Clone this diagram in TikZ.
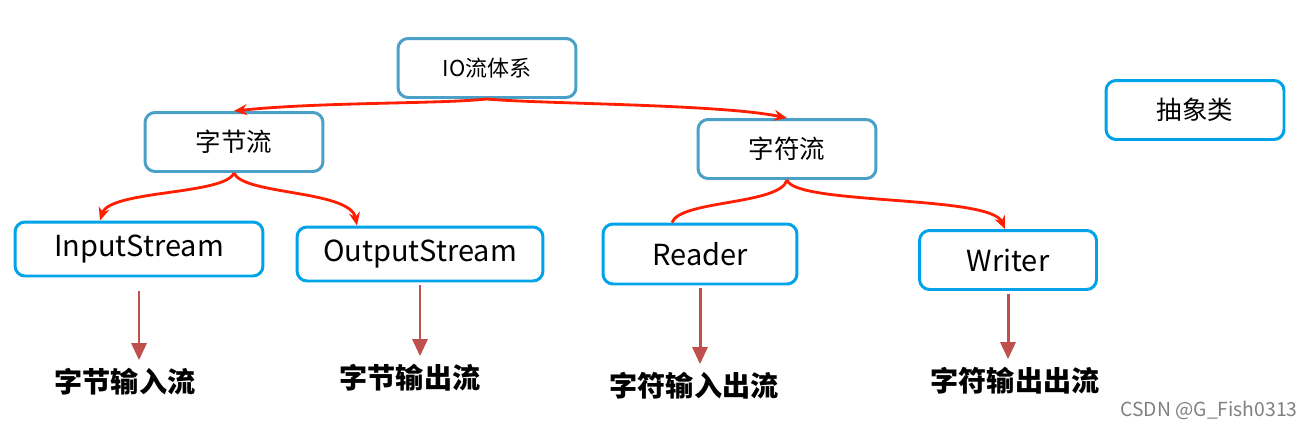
\documentclass[tikz,border=0pt]{standalone}
\usepackage{fontspec}
\setmainfont{Noto Sans CJK SC}
\usetikzlibrary{arrows.meta}

\definecolor{topblue}{RGB}{75,160,200}
\definecolor{leafblue}{RGB}{0,162,232}
\definecolor{linkred}{RGB}{255,30,0}
\definecolor{downred}{RGB}{192,80,77}

\tikzset{
    topbox/.style={draw=topblue,line width=1.7pt,rounded corners=0.2cm,minimum width=3.56cm,minimum height=1.18cm,font=\fontsize{14.5pt}{16pt}\selectfont},
    leafbox/.style={draw=leafblue,line width=1.7pt,rounded corners=0.2cm,minimum height=1.08cm,font=\fontsize{16.5pt}{19pt}\selectfont},
    leaflabel/.style={inner sep=0pt,font=\fontsize{16pt}{18pt}\selectfont\bfseries},
    link/.style={draw=linkred,line width=1.6pt,-{Stealth[length=0.26cm,width=0.22cm]}},
    down/.style={draw=downred,line width=1.7pt,-{Triangle[length=0.34cm,width=0.3cm]},shorten <=0.06cm,shorten >=0.16cm}
}

\begin{document}
\begin{tikzpicture}[x=0.02cm,y=-0.02cm]
                    \useasboundingbox (0,0) rectangle (1312,427);
                    \begin{scope}[every node/.style={topbox}]
                        \node (io) at (487,68) {\fontsize{12.5pt}{14pt}\selectfont IO流体系};
                        \node (zjl) at (234,142) {字节流};
                        \node (zfl) at (787,149) {字符流};
                        \node[draw=leafblue] (cxl) at (1195,110) {抽象类};
                    \end{scope}
                    \begin{scope}[every node/.style={leafbox}]
                        \node[minimum width=4.96cm] (in) at (139,249) {InputStream};
                        \node[minimum width=4.92cm] (out) at (420,254) {OutputStream};
                        \node[minimum width=3.88cm,minimum height=1.2cm] (rd) at (700,254) {Reader};
                        \node[minimum width=3.54cm,minimum height=1.18cm] (wr) at (1008,260) {Writer};
                    \end{scope}
                    \begin{scope}[every node/.style={leaflabel}]
                        \node (inl) at (125,382) {字节输入流};
                        \node (outl) at (410,378) {字节输出流};
                        \node (rdl) at (694,386) {字符输入出流};
                        \node (wrl) at (1015,381) {字符输出出流};
                    \end{scope}
                    \node[text=gray,font=\fontsize{11pt}{13pt}\selectfont] (csdn) at (1209,410) {CSDN @G\_Fish0313};
                    % red links
                    \draw[link] (io.south) .. controls (440,104) and (320,102) .. (zjl.north);
                    \draw[link] (io.south) .. controls (540,104) and (720,104) .. (zfl.north);
                    \draw[link] (zjl.south) .. controls (225,195) and (110,190) .. (in.north -| 100,0);
                    \draw[link] (zjl.south) .. controls (243,195) and (350,190) .. (out.north -| 357,0);
                    \draw[draw=linkred,line width=1.6pt] (zfl.south) .. controls (780,205) and (680,200) .. (rd.north -| 672,0);
                    \draw[link] (zfl.south) .. controls (795,205) and (990,195) .. (wr.north -| 1005,0);
                    % down arrows
                    \draw[down,shorten <=0.28cm] (in.south) -- (in.south |- inl.north);
                    \draw[down] (out.south) -- (out.south |- outl.north);
                    \draw[down] (rd.south) -- (rd.south |- rdl.north);
                    \draw[down] (wr.south) -- (wr.south |- wrl.north);
                \end{tikzpicture}
\end{document}
